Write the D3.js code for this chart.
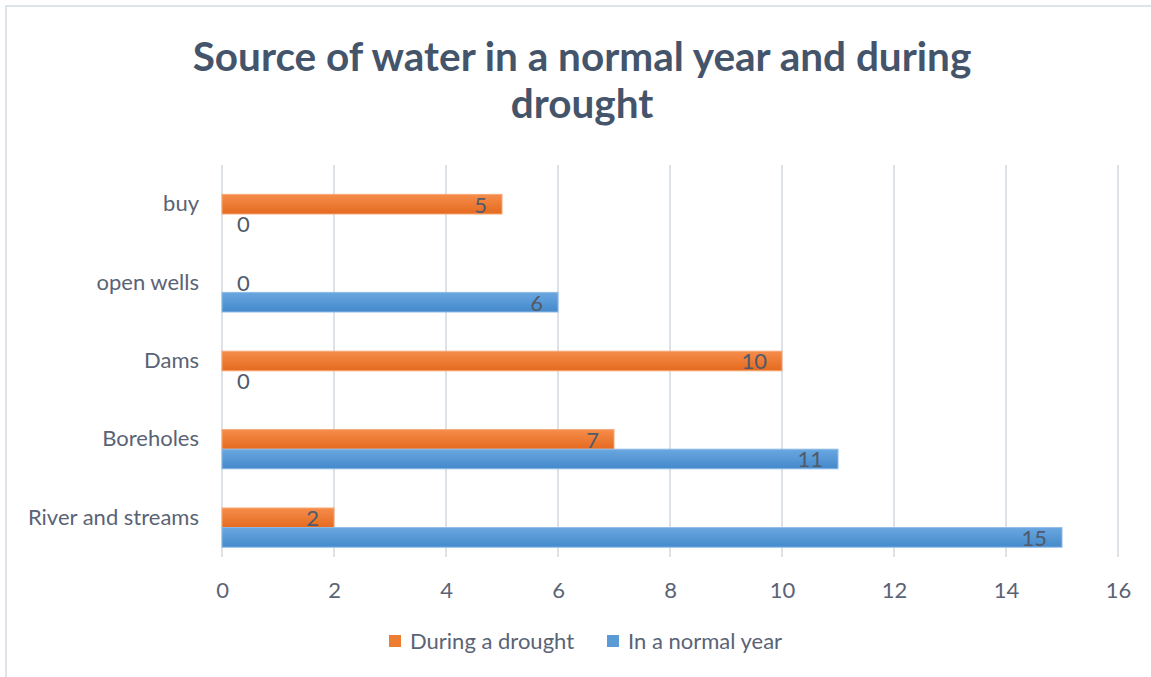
<!DOCTYPE html>
<html>
<head>
<meta charset="utf-8">
<script src="https://cdn.jsdelivr.net/npm/d3@7/dist/d3.min.js"></script>
<style>
  html, body { margin: 0; padding: 0; background: #ffffff; }
  svg { display: block; }
  text { font-family: Lato, "Open Sans", sans-serif; }
</style>
</head>
<body>
<div id="chart"></div>
<script>
// Water sources, listed from the bottom row of the chart to the top row
const categories = ["River and streams", "Boreholes", "Dams", "open wells", "buy"];
const seriesNames = ["During a drought", "In a normal year"];
const droughtValues = [2, 7, 10, 0, 5];
const normalValues = [15, 11, 0, 6, 0];
const xTicks = [0, 2, 4, 6, 8, 10, 12, 14, 16];
const titleLines = ["Source of water in a normal year and during", "drought"];

const W = 1151, H = 677;
const plot = { left: 222, right: 1118, top: 165, bottom: 557 };
const labelSize = 22;
const labelColor = "#5a6375";

const svg = d3.select("#chart").append("svg")
  .attr("width", W).attr("height", H);

// gradients for the bar fills
const defs = svg.append("defs");
function grad(id, top, bottom) {
  const g = defs.append("linearGradient").attr("id", id)
    .attr("x1", 0).attr("y1", 0).attr("x2", 0).attr("y2", 1);
  g.append("stop").attr("offset", "0%").attr("stop-color", top);
  g.append("stop").attr("offset", "100%").attr("stop-color", bottom);
}
grad("gOrange", "#f58d4b", "#e56a1f");
grad("gBlue", "#6aa7e0", "#4489cb");
const fills = { "During a drought": "url(#gOrange)", "In a normal year": "url(#gBlue)" };
const strokes = { "During a drought": "#f7a774", "In a normal year": "#8dbbe7" };
const swatch = { "During a drought": "#ed7d31", "In a normal year": "#5b9bd5" };

// chart frame (top and left edges)
svg.append("path")
  .attr("d", `M6,${H} L6,6 L${W},6`)
  .attr("fill", "none").attr("stroke", "#dfe3ea").attr("stroke-width", 2);

// title
const title = svg.append("text")
  .attr("text-anchor", "middle")
  .attr("font-size", 40.5).attr("font-weight", 700)
  .attr("fill", "#44546a");
titleLines.forEach((t, i) => {
  title.append("tspan").attr("x", 582).attr("y", 71 + i * 47).text(t);
});

// scales
const x = d3.scaleLinear().domain([0, 16]).range([plot.left, plot.right]);
const y = d3.scaleBand()
  .domain(categories.slice().reverse())
  .range([plot.top, plot.bottom])
  .paddingInner(0.25).paddingOuter(0.125);
// each cluster keeps a leading empty slot above the two series
const slot = d3.scaleBand()
  .domain(["", ...seriesNames])
  .range([0, y.bandwidth()]);

// vertical gridlines
svg.append("g").selectAll("line").data(xTicks).join("line")
  .attr("x1", d => x(d)).attr("x2", d => x(d))
  .attr("y1", plot.top).attr("y2", plot.bottom)
  .attr("stroke", "#dde1e8").attr("stroke-width", 2);

// x axis labels
const xAxis = d3.axisBottom(x).tickValues(xTicks).tickSize(0).tickPadding(0);
const gx = svg.append("g").attr("transform", `translate(0,${plot.bottom + 41})`).call(xAxis);
gx.select(".domain").remove();
gx.selectAll("text")
  .attr("font-family", "Lato, sans-serif")
  .attr("font-size", labelSize).attr("fill", labelColor).attr("dy", "0");

// category labels
const yAxis = d3.axisLeft(y).tickSize(0).tickPadding(0);
const gy = svg.append("g").attr("transform", `translate(${plot.left - 23},0)`).call(yAxis);
gy.select(".domain").remove();
gy.selectAll("text")
  .attr("font-family", "Lato, sans-serif")
  .attr("font-size", labelSize).attr("fill", labelColor).attr("dy", "0.32em");

// bars and value labels
const rows = categories.map((c, i) => ({
  cat: c,
  vals: [
    { s: seriesNames[0], v: droughtValues[i] },
    { s: seriesNames[1], v: normalValues[i] }
  ]
}));

const groups = svg.append("g").selectAll("g").data(rows).join("g")
  .attr("transform", d => `translate(0,${y(d.cat)})`);

groups.selectAll("rect").data(d => d.vals.filter(e => e.v > 0)).join("rect")
  .attr("x", x(0))
  .attr("y", d => slot(d.s))
  .attr("width", d => x(d.v) - x(0))
  .attr("height", slot.bandwidth())
  .attr("fill", d => fills[d.s])
  .attr("stroke", d => strokes[d.s]).attr("stroke-width", 1);

groups.selectAll("text.val").data(d => d.vals).join("text")
  .attr("class", "val")
  .attr("x", d => d.v > 0 ? x(d.v) - 15 : x(0) + 15)
  .attr("y", d => slot(d.s) + slot.bandwidth() / 2)
  .attr("dy", "0.38em")
  .attr("text-anchor", d => d.v > 0 ? "end" : "start")
  .attr("font-size", labelSize).attr("fill", "#505a6b")
  .text(d => d.v);

// legend
const legend = svg.append("g").attr("transform", "translate(389,641)");
const legendX = [0, 218];
seriesNames.forEach((s, i) => {
  const g = legend.append("g").attr("transform", `translate(${legendX[i]},0)`);
  g.append("rect").attr("x", 0).attr("y", -6).attr("width", 12).attr("height", 12)
    .attr("fill", swatch[s]);
  g.append("text").attr("x", 21).attr("y", 0).attr("dy", "0.35em")
    .attr("font-size", labelSize).attr("fill", labelColor).text(s);
});
</script>
</body>
</html>
